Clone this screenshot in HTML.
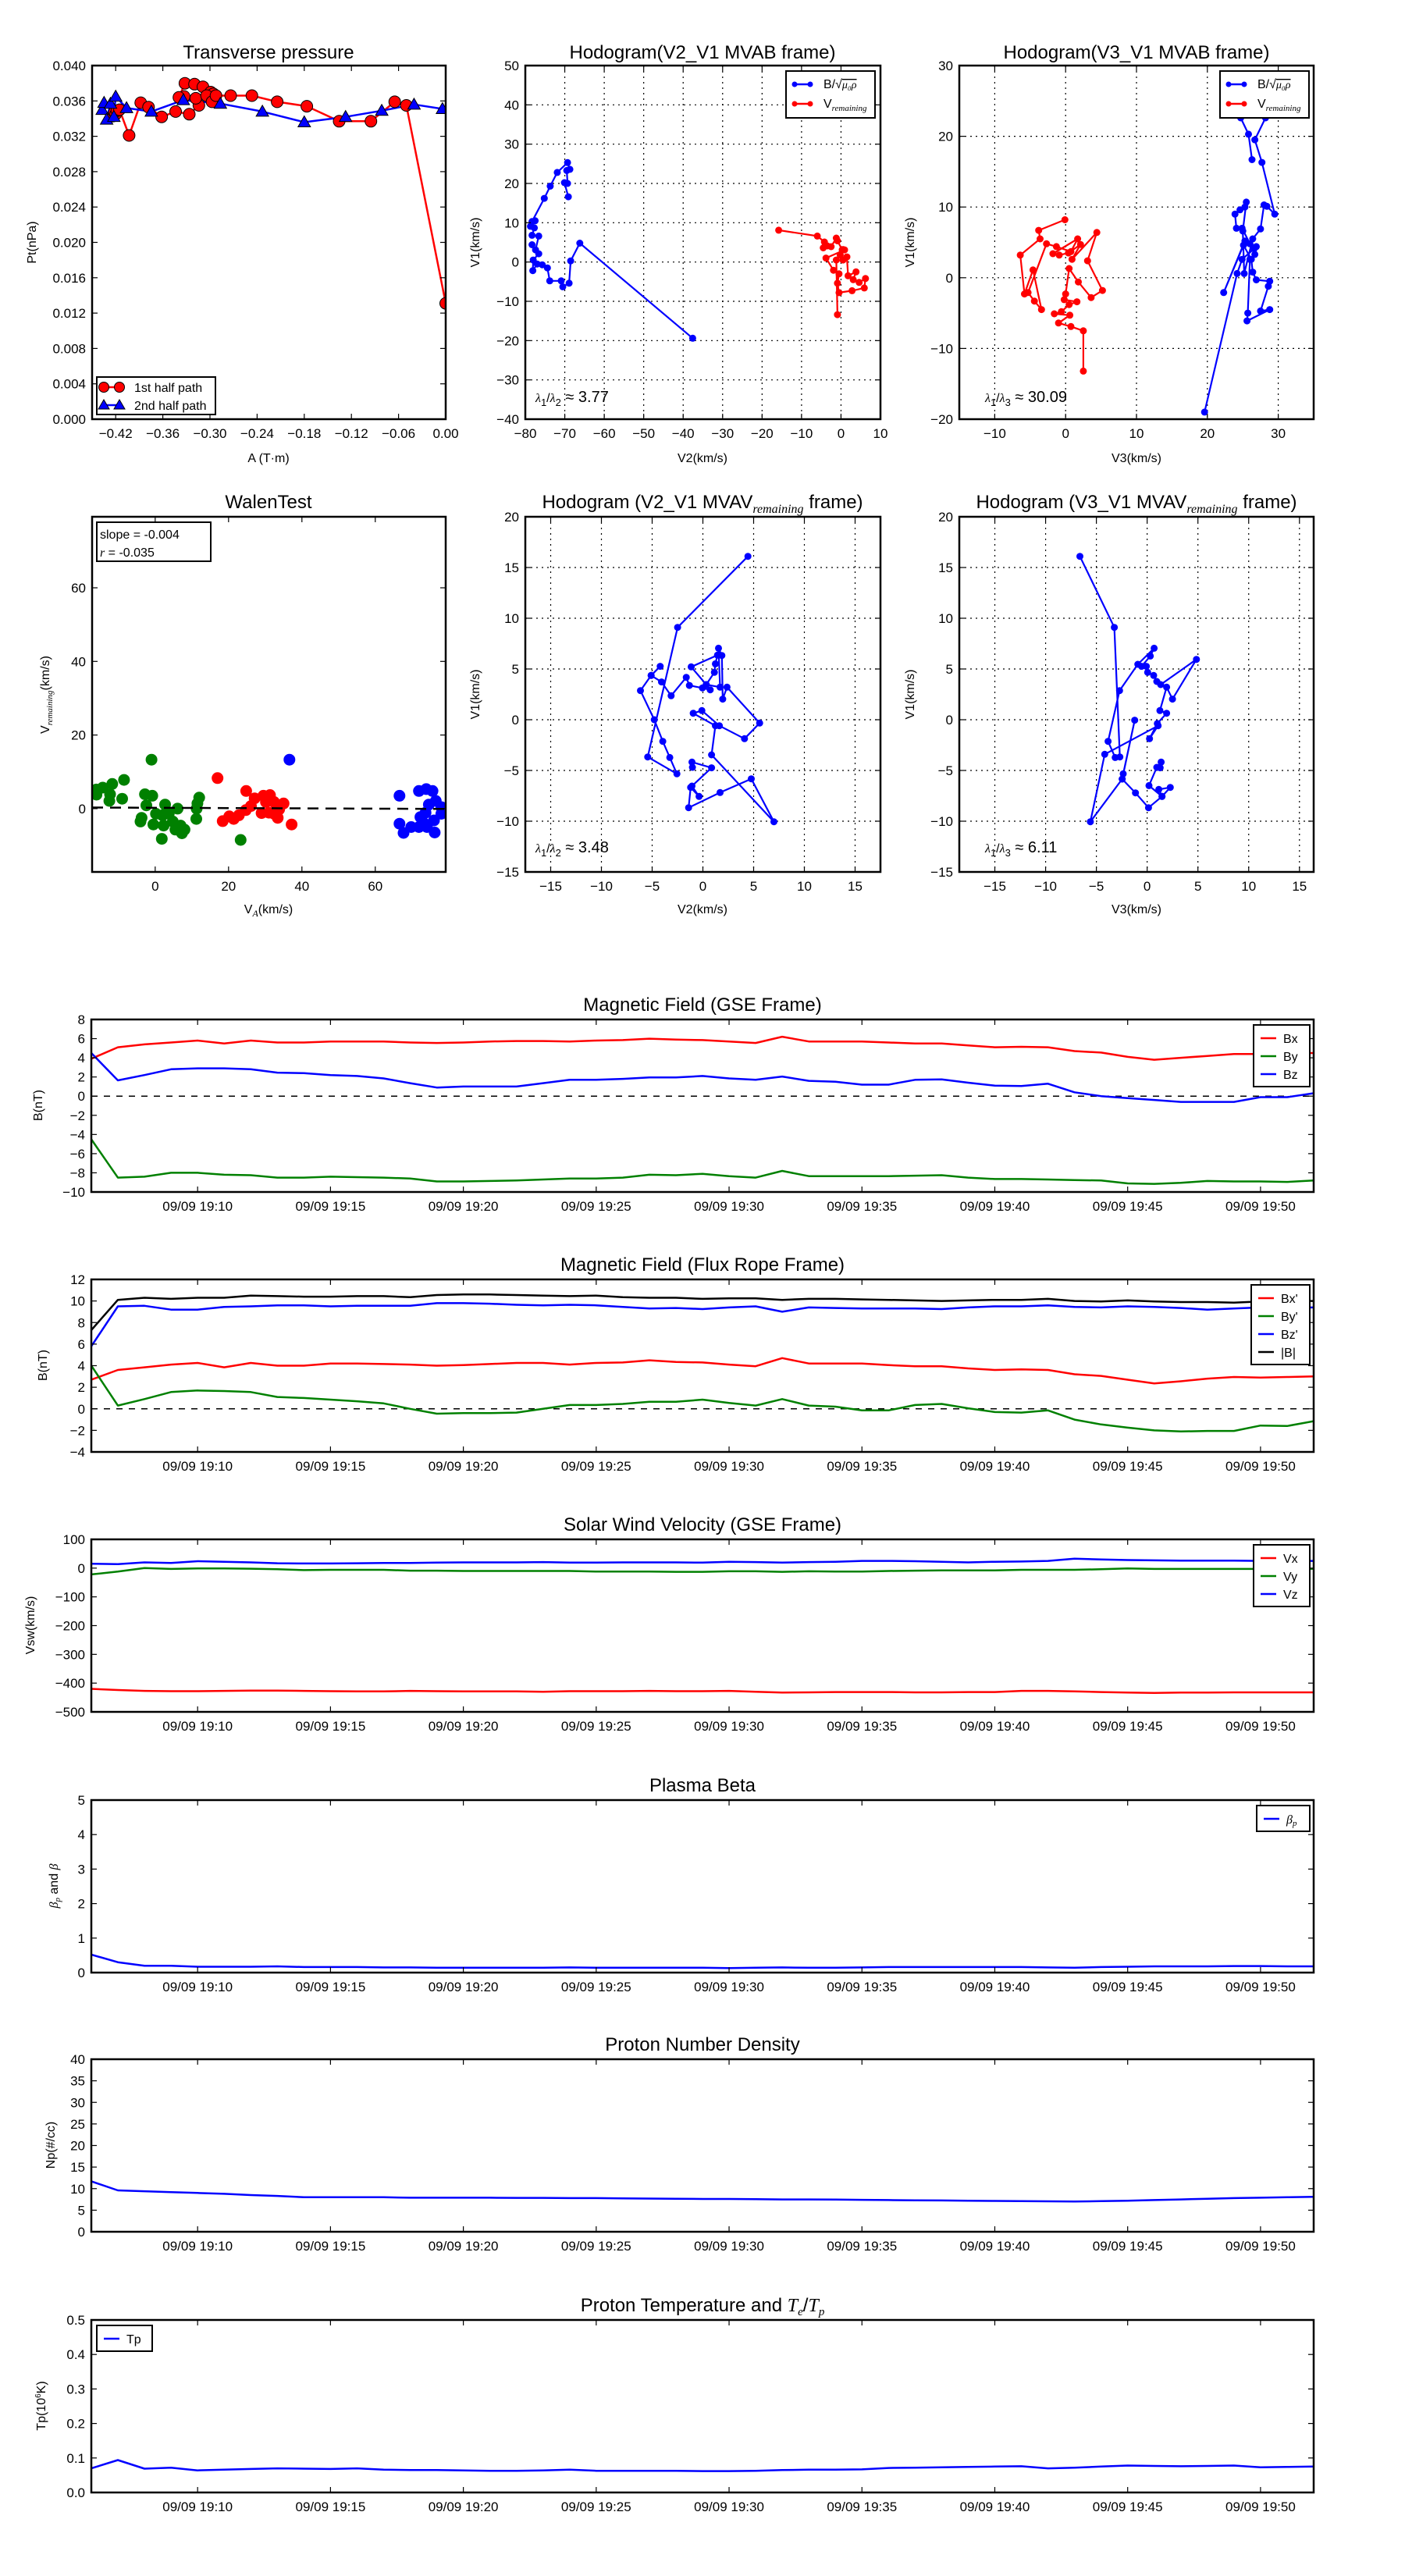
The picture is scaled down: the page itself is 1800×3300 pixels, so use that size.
<!DOCTYPE html>
<html><head><meta charset="utf-8"><title>Flux rope analysis</title>
<style>
html,body{margin:0;padding:0;background:#fff;}
svg{display:block;font-family:"Liberation Sans",sans-serif;}
.tick{font-size:17px;fill:#000;}
.ttl{font-size:24px;fill:#000;}
.lab{font-size:16px;fill:#000;}
.leg{font-size:16px;fill:#000;}
.mi{font-family:"Liberation Serif",serif;font-style:italic;}
</style></head>
<body>
<svg id="fig" width="1800" height="3300" viewBox="0 0 1800 3300" xmlns="http://www.w3.org/2000/svg">
<rect x="0" y="0" width="1800" height="3300" fill="#fff"/>
<defs id="defs"></defs>
</svg>
<script>
// ===== time-series data (1-min samples from 09/09 19:06) =====
var timeTickLabels = ["09/09 19:10","09/09 19:15","09/09 19:20","09/09 19:25","09/09 19:30","09/09 19:35","09/09 19:40","09/09 19:45","09/09 19:50"];
var timeTickMinutes = [4,9,14,19,24,29,34,39,44];
var gseBx = [3.9,5.1,5.4,5.6,5.8,5.5,5.8,5.6,5.6,5.7,5.7,5.7,5.6,5.55,5.6,5.7,5.75,5.75,5.7,5.8,5.85,6.0,5.9,5.85,5.7,5.55,6.2,5.7,5.7,5.7,5.6,5.5,5.5,5.3,5.1,5.15,5.1,4.7,4.55,4.1,3.8,4.0,4.2,4.4,4.4,4.5,4.5];
var gseBy = [-4.5,-8.5,-8.4,-8.0,-8.0,-8.2,-8.25,-8.5,-8.5,-8.4,-8.45,-8.5,-8.6,-8.9,-8.9,-8.85,-8.8,-8.7,-8.6,-8.6,-8.5,-8.2,-8.25,-8.1,-8.35,-8.5,-7.8,-8.35,-8.35,-8.35,-8.35,-8.3,-8.25,-8.5,-8.65,-8.65,-8.7,-8.75,-8.8,-9.1,-9.15,-9.05,-8.85,-8.9,-8.9,-8.95,-8.8];
var gseBz = [4.5,1.65,2.2,2.8,2.9,2.9,2.8,2.45,2.4,2.2,2.1,1.85,1.35,0.9,1.0,1.0,1.0,1.35,1.7,1.7,1.8,1.95,1.95,2.1,1.85,1.7,2.05,1.6,1.5,1.2,1.2,1.7,1.75,1.4,1.1,1.05,1.3,0.4,0.0,-0.2,-0.4,-0.6,-0.6,-0.6,-0.1,-0.1,0.3];
var frBx = [2.7,3.6,3.85,4.1,4.25,3.85,4.25,4.0,4.0,4.2,4.2,4.15,4.1,4.0,4.05,4.15,4.25,4.25,4.1,4.25,4.3,4.5,4.35,4.3,4.1,3.95,4.7,4.2,4.2,4.2,4.05,3.95,3.95,3.75,3.6,3.65,3.6,3.2,3.05,2.7,2.35,2.55,2.8,2.95,2.9,2.95,3.0];
var frBy = [4.0,0.3,0.9,1.55,1.7,1.65,1.55,1.1,1.0,0.85,0.7,0.5,0.0,-0.45,-0.4,-0.4,-0.35,0.0,0.35,0.35,0.45,0.65,0.65,0.85,0.55,0.3,0.9,0.3,0.2,-0.15,-0.15,0.35,0.45,0.05,-0.3,-0.35,-0.15,-1.0,-1.45,-1.75,-2.0,-2.1,-2.05,-2.05,-1.55,-1.6,-1.15];
var frBz = [5.8,9.5,9.55,9.2,9.2,9.45,9.5,9.6,9.6,9.5,9.55,9.55,9.55,9.8,9.8,9.75,9.65,9.6,9.65,9.6,9.45,9.3,9.35,9.25,9.4,9.5,9.0,9.4,9.35,9.3,9.3,9.3,9.25,9.4,9.5,9.5,9.6,9.45,9.4,9.5,9.45,9.35,9.2,9.3,9.4,9.35,9.4];
var frBt = [7.3,10.1,10.3,10.2,10.3,10.3,10.5,10.45,10.4,10.4,10.45,10.45,10.35,10.55,10.6,10.6,10.55,10.5,10.45,10.5,10.35,10.3,10.3,10.2,10.25,10.25,10.1,10.2,10.2,10.15,10.1,10.05,10.0,10.05,10.1,10.1,10.2,10.0,9.95,10.05,9.95,9.9,9.9,9.85,9.95,10.0,10.0];
var swVx = [-420,-424,-427,-428,-428,-427,-426,-426,-427,-428,-429,-429,-427,-428,-429,-429,-429,-430,-428,-428,-428,-427,-428,-428,-427,-430,-433,-432,-431,-431,-431,-432,-432,-431,-431,-427,-427,-429,-431,-433,-434,-433,-433,-432,-432,-432,-432];
var swVy = [-22,-12,0,-3,-1,-1,-2,-4,-7,-6,-6,-6,-9,-9,-10,-10,-10,-10,-10,-12,-12,-12,-13,-13,-11,-11,-13,-11,-12,-12,-10,-9,-8,-8,-8,-6,-6,-6,-4,-1,-3,-3,-3,-3,-3,-5,-2];
var swVz = [15,14,20,18,24,22,20,17,16,16,17,18,18,19,20,20,20,21,19,19,20,20,20,19,22,21,19,21,22,25,25,24,22,20,22,23,25,33,30,28,27,26,26,26,25,25,25];
var betaP = [0.52,0.3,0.2,0.2,0.17,0.17,0.17,0.18,0.16,0.16,0.16,0.15,0.15,0.14,0.14,0.14,0.14,0.14,0.15,0.14,0.14,0.14,0.14,0.14,0.13,0.14,0.15,0.14,0.14,0.15,0.16,0.16,0.16,0.16,0.16,0.16,0.15,0.14,0.16,0.17,0.18,0.18,0.18,0.19,0.19,0.18,0.18];
var npDensity = [11.7,9.6,9.4,9.2,9.0,8.8,8.5,8.3,8.0,8.0,8.0,8.0,7.9,7.9,7.9,7.9,7.85,7.85,7.8,7.8,7.75,7.7,7.65,7.6,7.6,7.55,7.5,7.5,7.45,7.4,7.35,7.3,7.25,7.2,7.15,7.1,7.05,7.0,7.1,7.2,7.35,7.5,7.65,7.8,7.9,8.0,8.1];
var tpTemp = [0.07,0.094,0.069,0.072,0.064,0.066,0.068,0.07,0.069,0.068,0.07,0.066,0.065,0.065,0.064,0.063,0.063,0.064,0.066,0.063,0.063,0.063,0.063,0.062,0.062,0.063,0.065,0.066,0.066,0.067,0.071,0.072,0.073,0.074,0.075,0.076,0.07,0.072,0.075,0.078,0.077,0.076,0.077,0.078,0.073,0.074,0.075];

// ===== transverse pressure =====
var ptTickX = [-0.42,-0.36,-0.30,-0.24,-0.18,-0.12,-0.06,0.00];
var ptTickY = [0.000,0.004,0.008,0.012,0.016,0.020,0.024,0.028,0.032,0.036,0.040];
var pt1A = [-0.4233,-0.4216,-0.42,-0.4184,-0.4151,-0.4029,-0.3881,-0.3782,-0.3615,-0.3437,-0.3263,-0.3141,-0.3181,-0.3329,-0.3395,-0.3319,-0.3197,-0.3089,-0.2990,-0.2957,-0.3043,-0.2974,-0.2924,-0.2737,-0.2467,-0.2145,-0.1767,-0.1356,-0.0952,-0.0649,-0.0501,0.0];
var pt1P = [0.0343,0.0347,0.0345,0.0349,0.0350,0.0321,0.0358,0.0353,0.0342,0.0348,0.0345,0.0355,0.0363,0.0365,0.0364,0.0380,0.0379,0.0376,0.0370,0.0368,0.0366,0.0359,0.0366,0.0366,0.0366,0.0359,0.0354,0.0337,0.0337,0.0359,0.0355,0.0131];
var pt2A = [-0.4371,-0.4348,-0.4266,-0.4315,-0.4223,-0.42,-0.4062,-0.3746,-0.3339,-0.2868,-0.2333,-0.18,-0.1274,-0.0814,-0.0403,-0.0041];
var pt2P = [0.0350,0.0358,0.0357,0.0339,0.0342,0.0365,0.0352,0.0348,0.0361,0.0357,0.0348,0.0336,0.0342,0.0349,0.0356,0.0351];

// ===== hodogram V2-V1 MVAB =====
var h1BlueV2 = [-37.6,-66.2,-68.5,-68.9,-70.5,-70.9,-73.8,-74.4,-75.7,-77.0,-78.1,-78.0,-76.6,-78.3,-77.4,-76.6,-78.3,-77.7,-78.7,-77.5,-78.3,-75.2,-73.7,-71.9,-69.3,-68.7,-69.5,-69.3,-70.1,-69.1];
var h1BlueV1 = [-19.4,4.8,0.3,-5.4,-6.3,-4.8,-4.8,-1.5,-0.7,-0.5,-2.2,0.5,2.1,4.4,3.1,6.6,6.8,8.7,9.1,10.5,10.3,16.2,19.3,22.8,25.3,23.6,23.3,20.0,20.2,16.6];
var h1RedV2 = [-15.8,-6.0,-4.2,-4.5,-3.5,-2.5,-1.2,-0.9,0.3,0.5,0.9,-3.8,-1.9,-0.5,-0.9,-0.5,2.8,5.9,6.2,4.6,3.1,3.8,1.8,1.5,0.5,-0.2,-1.2,-0.9];
var h1RedV1 = [8.1,6.6,5.1,3.6,4.1,3.9,6.1,5.4,3.1,3.2,3.1,1.0,-2.1,-3.0,-5.4,-7.8,-7.3,-6.6,-4.2,-5.2,-4.5,-2.5,-3.5,1.3,0.5,1.8,0.5,-13.4];

// ===== hodogram V3-V1 MVAB =====
var h2BlueV3 = [19.6,24.2,24.9,26.6,26.9,25.3,22.3,25.1,26.2,26.4,26.9,28.8,28.6,27.5,28.8,25.6,25.7,26.0,26.7,26.0,24.9,24.1,23.9,24.6,25.3,25.5,25.0,25.2,26.4,27.5,28.0,28.4,29.5,27.7,26.7,28.2,26.4,24.7,25.8,26.3];
var h2BlueV1 = [-19.0,0.6,2.6,4.1,4.4,5.2,-2.1,4.6,2.6,0.8,-0.3,-0.5,-1.2,-4.7,-4.5,-6.1,-5.0,2.6,3.3,4.8,7.0,7.0,9.0,9.6,10.0,10.7,6.6,0.6,5.5,6.9,10.3,10.1,9.0,16.3,19.5,22.6,24.6,22.6,20.3,16.7];
var h2RedV3 = [-0.1,-3.8,-3.6,-6.4,-5.8,-4.6,-3.4,-4.4,-5.3,-2.7,-1.3,0.75,1.7,-1.8,-0.9,0.4,2.1,0.9,4.4,3.1,5.2,3.6,1.8,0.5,0.0,-0.2,1.6,0.5,-0.6,-1.6,0.6,-1.0,0.75,2.5,2.5];
var h2RedV1 = [8.2,6.7,5.5,3.2,-2.3,1.1,-4.5,-3.3,-2.1,4.8,4.4,3.7,5.5,3.4,3.2,3.5,4.7,2.6,6.4,2.4,-1.8,-2.8,-0.6,1.3,-2.3,-3.1,-3.4,-3.8,-4.8,-5.1,-5.3,-6.4,-6.9,-7.5,-13.2];

// ===== Walen test =====
var walenGreenVA = [-16.0,-16.0,-14.3,-11.7,-12.3,-12.5,-8.5,-9.0,-1.0,-2.8,-0.8,-2.4,2.7,6.1,0.2,2.0,3.7,-3.7,-4.0,-0.5,2.3,4.8,5.5,6.9,8.0,7.3,1.8,11.2,11.3,11.5,12.0,23.3];
var walenGreenV = [5.2,3.8,5.7,6.7,3.9,2.1,7.8,2.7,13.3,3.9,3.5,0.9,1.1,0.0,-1.4,-1.8,-1.4,-2.5,-3.5,-4.3,-4.6,-3.5,-5.7,-4.6,-5.7,-6.7,-8.2,-2.8,0.0,1.4,3.0,-8.5];
var walenRedVA = [17.0,24.8,27.1,29.5,31.3,30.2,32.4,35.0,26.1,24.7,29.0,31.0,33.4,32.4,22.8,21.4,20.2,18.4,37.2,33.8];
var walenRedV = [8.3,4.8,2.8,3.5,3.7,1.8,1.8,1.4,0.7,-0.4,-1.2,-1.1,-2.5,-1.4,-1.8,-2.8,-2.1,-3.4,-4.3,-0.2];
var walenBlueVA = [36.6,66.6,71.9,73.9,75.6,76.5,74.6,78.0,78.0,72.3,73.7,76.0,76.2,74.1,71.9,69.8,66.6,67.7,73.2];
var walenBlueV = [13.3,3.5,4.8,5.3,4.8,2.1,1.1,0.4,-1.4,-2.3,-1.1,-3.2,-6.5,-5.0,-5.0,-5.0,-4.1,-6.6,-3.9];
var walenSlope = -0.004;
var walenIntercept = 0.23;

// ===== hodogram MVAV remaining =====
var h3V2 = [-1.03,-1.08,0.85,-1.08,-0.38,-1.21,-1.41,1.69,4.77,7.00,0.85,1.23,-0.95,-0.10,1.62,4.10,5.59,2.38,1.95,1.87,1.54,1.69,0.33,1.13,1.23,1.44,-1.15,0.33,0.72,-0.05,-1.33,-1.64,-3.13,-4.08,-5.10,-4.21,-5.10,-6.15,-4.79,-3.95,-3.26,-2.56,-5.44,-2.49,4.44];
var h3V1 = [-4.69,-4.18,-4.74,-6.54,-7.56,-6.67,-8.67,-7.18,-5.82,-10.05,-3.46,-0.59,0.64,0.90,-0.59,-1.87,-0.33,3.21,2.03,6.33,7.05,3.21,3.46,4.67,5.51,6.36,5.21,3.46,2.95,3.13,3.38,4.18,2.36,3.72,4.36,5.26,4.36,2.87,0.00,-2.13,-3.72,-5.33,-3.67,9.10,16.10];
var h4V3 = [-6.62,-3.23,-2.69,-3.15,-3.85,-2.72,-0.92,0.69,0.31,-0.54,-0.08,0.05,0.64,0.95,1.33,4.85,2.49,1.92,1.26,1.92,1.00,0.23,1.08,-4.18,-5.59,-2.46,-2.36,-1.23,-2.46,-1.15,0.13,1.46,2.28,1.15,1.46,0.18,0.95,1.38,1.28];
var h4V1 = [16.10,9.10,-3.67,-3.72,-2.13,2.87,5.46,7.05,6.28,5.26,5.26,4.67,4.36,3.77,3.46,5.95,2.03,3.21,0.90,0.64,-0.38,-1.87,-0.59,-3.41,-10.05,-5.85,-5.33,-0.05,-5.85,-7.21,-8.67,-7.56,-6.67,-6.87,-7.56,-6.49,-4.69,-4.18,-4.74];

var SVGNS = "http://www.w3.org/2000/svg";
var svg = document.getElementById('fig');
var defs = document.getElementById('defs');
var clipId = 0;

function mk(tag, attrs, parent, name, inter) {
  var e = document.createElementNS(SVGNS, tag);
  for (var k in attrs) e.setAttribute(k, attrs[k]);
  
  
  (parent || svg).appendChild(e);
  return e;
}
function txt(s, x, y, cls, anchor, parent, name) {
  var t = mk('text', {x: x, y: y, 'class': cls, 'text-anchor': anchor || 'middle'}, parent, name, false);
  t.textContent = s;
  return t;
}
function fmtMinus(s) { return String(s).replace('-', '\u2212'); }

function makeAxes(name, x0, y0, x1, y1, xmin, xmax, ymin, ymax) {
  var g = mk('g', {}, svg, name, false);
  var ax = {g: g, x0: x0, x1: x1, y0: y0, y1: y1};
  ax.sx = function (v) { return x0 + (v - xmin) / (xmax - xmin) * (x1 - x0); };
  ax.sy = function (v) { return y1 - (v - ymin) / (ymax - ymin) * (y1 - y0); };
  clipId++;
  var cp = mk('clipPath', {id: 'clip' + clipId}, defs, name + '-clip', false);
  mk('rect', {x: x0, y: y0, width: x1 - x0, height: y1 - y0}, cp, name + '-clip-rect', false);
  ax.plot = mk('g', {'clip-path': 'url(#clip' + clipId + ')'}, g, name + '-plot-area', false);
  return ax;
}
function frame(ax) {
  mk('rect', {x: ax.x0, y: ax.y0, width: ax.x1 - ax.x0, height: ax.y1 - ax.y0, fill: 'none', stroke: '#000', 'stroke-width': 2.5}, ax.g, 'axes-frame', false);
}
function xTicks(ax, vals, labels, grid) {
  for (var i = 0; i < vals.length; i++) {
    var x = ax.sx(vals[i]);
    if (grid) mk('line', {x1: x, y1: ax.y0, x2: x, y2: ax.y1, stroke: '#000', 'stroke-width': 1.2, 'stroke-dasharray': '2,5'}, ax.plot, 'x-grid-line', false);
    mk('line', {x1: x, y1: ax.y1, x2: x, y2: ax.y1 - 7, stroke: '#000', 'stroke-width': 1.2}, ax.g, 'x-tick', false);
    mk('line', {x1: x, y1: ax.y0, x2: x, y2: ax.y0 + 7, stroke: '#000', 'stroke-width': 1.2}, ax.g, 'x-tick', false);
    txt(labels[i], x, ax.y1 + 24, 'tick', 'middle', ax.g, 'x-tick-label');
  }
}
function yTicks(ax, vals, labels, grid) {
  for (var i = 0; i < vals.length; i++) {
    var y = ax.sy(vals[i]);
    if (grid) mk('line', {x1: ax.x0, y1: y, x2: ax.x1, y2: y, stroke: '#000', 'stroke-width': 1.2, 'stroke-dasharray': '2,5'}, ax.plot, 'y-grid-line', false);
    mk('line', {x1: ax.x0, y1: y, x2: ax.x0 + 7, y2: y, stroke: '#000', 'stroke-width': 1.2}, ax.g, 'y-tick', false);
    mk('line', {x1: ax.x1, y1: y, x2: ax.x1 - 7, y2: y, stroke: '#000', 'stroke-width': 1.2}, ax.g, 'y-tick', false);
    txt(labels[i], ax.x0 - 8, y + 6, 'tick', 'end', ax.g, 'y-tick-label');
  }
}
function ylabel(ax, s, x, name) {
  var cy = (ax.y0 + ax.y1) / 2;
  var t = mk('text', {x: x, y: cy, 'class': 'lab', 'text-anchor': 'middle', transform: 'rotate(-90 ' + x + ' ' + cy + ')'}, ax.g, name, false);
  t.textContent = s;
  return t;
}
function polyline(ax, xs, ys, color, name, width) {
  var pts = [];
  for (var i = 0; i < xs.length; i++) pts.push(ax.sx(xs[i]).toFixed(1) + ',' + ax.sy(ys[i]).toFixed(1));
  return mk('polyline', {points: pts.join(' '), fill: 'none', stroke: color, 'stroke-width': width || 2.5, 'stroke-linejoin': 'round'}, ax.plot, name, false);
}
function dots(ax, xs, ys, color, r, name, edge) {
  for (var i = 0; i < xs.length; i++) {
    var a = {cx: ax.sx(xs[i]).toFixed(1), cy: ax.sy(ys[i]).toFixed(1), r: r, fill: color};
    if (edge) { a.stroke = '#000'; a['stroke-width'] = 1; }
    mk('circle', a, ax.plot, name, false);
  }
}
function tris(ax, xs, ys, color, s, name) {
  for (var i = 0; i < xs.length; i++) {
    var x = ax.sx(xs[i]), y = ax.sy(ys[i]);
    mk('polygon', {points: x + ',' + (y - s) + ' ' + (x - s) + ',' + (y + s * 0.75) + ' ' + (x + s) + ',' + (y + s * 0.75), fill: color, stroke: '#000', 'stroke-width': 1}, ax.plot, name, false);
  }
}
function range(a, b, step) { var r = []; for (var v = a; v <= b + 1e-9; v += step) r.push(Math.round(v * 1000) / 1000); return r; }
function minutes(n) { var r = []; for (var i = 0; i < n; i++) r.push(i); return r; }

// ---------------- Transverse pressure ----------------
(function () {
  var ax = makeAxes('transverse-pressure-chart', 118, 84, 571, 537, -0.45, 0.0, 0.0, 0.040);
  txt('Transverse pressure', 344, 75, 'ttl', 'middle', ax.g, 'chart-title');
  xTicks(ax, ptTickX, ptTickX.map(function (v) { return fmtMinus(v.toFixed(2)); }), false);
  yTicks(ax, ptTickY, ptTickY.map(function (v) { return v.toFixed(3); }), false);
  polyline(ax, pt1A, pt1P, '#ff0000', 'first-half-line', 2.5);
  polyline(ax, pt2A, pt2P, '#0000ff', 'second-half-line', 2.5);
  dots(ax, pt1A, pt1P, '#ff0000', 7.5, 'first-half-point', true);
  tris(ax, pt2A, pt2P, '#0000ff', 8, 'second-half-point');
  frame(ax);
  txt('A (T\u00b7m)', 344, 592, 'lab', 'middle', ax.g, 'x-axis-title');
  ylabel(ax, 'Pt(nPa)', 46, 'y-axis-title');
  var lg = mk('g', {}, ax.g, 'legend', false);
  mk('rect', {x: 124, y: 483, width: 152, height: 48, fill: '#fff', stroke: '#000', 'stroke-width': 2}, lg, 'legend-box', false);
  mk('line', {x1: 132, y1: 496, x2: 154, y2: 496, stroke: '#ff0000', 'stroke-width': 2.5}, lg, 'legend-line-first', false);
  mk('circle', {cx: 133, cy: 496, r: 6.5, fill: '#ff0000', stroke: '#000'}, lg, 'legend-marker-first', false);
  mk('circle', {cx: 153, cy: 496, r: 6.5, fill: '#ff0000', stroke: '#000'}, lg, 'legend-marker-first', false);
  txt('1st half path', 172, 502, 'leg', 'start', lg, 'legend-entry-first-half');
  mk('line', {x1: 132, y1: 519, x2: 154, y2: 519, stroke: '#0000ff', 'stroke-width': 2.5}, lg, 'legend-line-second', false);
  mk('polygon', {points: '133,512 126,524 140,524', fill: '#0000ff', stroke: '#000'}, lg, 'legend-marker-second', false);
  mk('polygon', {points: '153,512 146,524 160,524', fill: '#0000ff', stroke: '#000'}, lg, 'legend-marker-second', false);
  txt('2nd half path', 172, 525, 'leg', 'start', lg, 'legend-entry-second-half');
})();

function hodoLegend(ax, lx, ly) {
  var lg = mk('g', {}, ax.g, 'legend', false);
  mk('rect', {x: lx, y: ly, width: 114, height: 60, fill: '#fff', stroke: '#000', 'stroke-width': 2}, lg, 'legend-box', false);
  mk('line', {x1: lx + 11, y1: ly + 17, x2: lx + 31, y2: ly + 17, stroke: '#0000ff', 'stroke-width': 2.5}, lg, 'legend-line-b', false);
  mk('circle', {cx: lx + 11, cy: ly + 17, r: 3.5, fill: '#0000ff'}, lg, 'legend-marker', false);
  mk('circle', {cx: lx + 31, cy: ly + 17, r: 3.5, fill: '#0000ff'}, lg, 'legend-marker', false);
  var t1 = mk('text', {x: lx + 48, y: ly + 22, 'class': 'leg', 'text-anchor': 'start'}, lg, 'legend-entry-alfven', false);
  t1.innerHTML = 'B/\u221A<tspan class="mi" text-decoration="overline" font-size="14">\u03BC\u2080\u03C1</tspan>';
  mk('line', {x1: lx + 11, y1: ly + 42, x2: lx + 31, y2: ly + 42, stroke: '#ff0000', 'stroke-width': 2.5}, lg, 'legend-line-v', false);
  mk('circle', {cx: lx + 11, cy: ly + 42, r: 3.5, fill: '#ff0000'}, lg, 'legend-marker', false);
  mk('circle', {cx: lx + 31, cy: ly + 42, r: 3.5, fill: '#ff0000'}, lg, 'legend-marker', false);
  var t2 = mk('text', {x: lx + 48, y: ly + 47, 'class': 'leg', 'text-anchor': 'start'}, lg, 'legend-entry-vremaining', false);
  t2.innerHTML = 'V<tspan class="mi" font-size="11" dy="4">remaining</tspan>';
}
function lambdaText(ax, x, y, sub, val) {
  var t = mk('text', {x: x, y: y, 'class': 'lab', 'text-anchor': 'start', 'font-size': '20'}, ax.g, 'eigenvalue-ratio', false);
  t.innerHTML = '<tspan class="mi">\u03BB</tspan><tspan font-size="13" dy="5">1</tspan><tspan dy="-5">/</tspan><tspan class="mi">\u03BB</tspan><tspan font-size="13" dy="5">' + sub + '</tspan><tspan dy="-5" font-size="20"> \u2248 ' + val + '</tspan>';
  t.setAttribute('font-size', '20');
}

// ---------------- Hodogram V2_V1 MVAB ----------------
(function () {
  var ax = makeAxes('hodogram-v2-v1-mvab', 673, 84, 1128, 537, -80, 10, -40, 50);
  txt('Hodogram(V2_V1 MVAB frame)', 900, 75, 'ttl', 'middle', ax.g, 'chart-title');
  var xt = range(-80, 10, 10), yt = range(-40, 50, 10);
  xTicks(ax, xt, xt.map(fmtMinus), true);
  yTicks(ax, yt, yt.map(fmtMinus), true);
  polyline(ax, h1BlueV2, h1BlueV1, '#0000ff', 'alfven-velocity-line', 2.2);
  dots(ax, h1BlueV2, h1BlueV1, '#0000ff', 4.5, 'alfven-velocity-point');
  polyline(ax, h1RedV2, h1RedV1, '#ff0000', 'remaining-velocity-line', 2.2);
  dots(ax, h1RedV2, h1RedV1, '#ff0000', 4.5, 'remaining-velocity-point');
  frame(ax);
  hodoLegend(ax, 1007, 91);
  lambdaText(ax, 686, 515, '2', '3.77');
  txt('V2(km/s)', 900, 592, 'lab', 'middle', ax.g, 'x-axis-title');
  ylabel(ax, 'V1(km/s)', 614, 'y-axis-title');
})();

// ---------------- Hodogram V3_V1 MVAB ----------------
(function () {
  var ax = makeAxes('hodogram-v3-v1-mvab', 1229, 84, 1683, 537, -15, 35, -20, 30);
  txt('Hodogram(V3_V1 MVAB frame)', 1456, 75, 'ttl', 'middle', ax.g, 'chart-title');
  var xt = range(-10, 30, 10), yt = range(-20, 30, 10);
  xTicks(ax, xt, xt.map(fmtMinus), true);
  yTicks(ax, yt, yt.map(fmtMinus), true);
  polyline(ax, h2BlueV3, h2BlueV1, '#0000ff', 'alfven-velocity-line', 2.2);
  dots(ax, h2BlueV3, h2BlueV1, '#0000ff', 4.5, 'alfven-velocity-point');
  polyline(ax, h2RedV3, h2RedV1, '#ff0000', 'remaining-velocity-line', 2.2);
  dots(ax, h2RedV3, h2RedV1, '#ff0000', 4.5, 'remaining-velocity-point');
  frame(ax);
  hodoLegend(ax, 1563, 91);
  lambdaText(ax, 1262, 515, '3', '30.09');
  txt('V3(km/s)', 1456, 592, 'lab', 'middle', ax.g, 'x-axis-title');
  ylabel(ax, 'V1(km/s)', 1171, 'y-axis-title');
})();

// ---------------- Walen test ----------------
(function () {
  var ax = makeAxes('walen-test-chart', 118, 662, 571, 1117, -17.2, 79.2, -17.2, 79.3);
  txt('WalenTest', 344, 651, 'ttl', 'middle', ax.g, 'chart-title');
  var xt = [0, 20, 40, 60], yt = [0, 20, 40, 60];
  xTicks(ax, xt, xt.map(String), false);
  yTicks(ax, yt, yt.map(String), false);
  dots(ax, walenGreenVA, walenGreenV, '#008000', 7.5, 'walen-point-green');
  dots(ax, walenRedVA, walenRedV, '#ff0000', 7.5, 'walen-point-red');
  dots(ax, walenBlueVA, walenBlueV, '#0000ff', 7.5, 'walen-point-blue');
  var fx = [-17.2, 79.2];
  var fy = [walenIntercept + walenSlope * fx[0], walenIntercept + walenSlope * fx[1]];
  var fl = polyline(ax, fx, fy, '#000', 'walen-fit-line', 2.5);
  fl.setAttribute('stroke-dasharray', '14,9');
  frame(ax);
  var lg = mk('g', {}, ax.g, 'fit-stats-box', false);
  mk('rect', {x: 124, y: 669, width: 146, height: 50, fill: '#fff', stroke: '#000', 'stroke-width': 2}, lg, 'stats-box', false);
  txt('slope = -0.004', 128, 690, 'leg', 'start', lg, 'slope-text').setAttribute('font-size', '18');
  var r = mk('text', {x: 128, y: 713, 'class': 'leg', 'text-anchor': 'start', 'font-size': '18'}, lg, 'r-text', false);
  r.innerHTML = '<tspan class="mi">r</tspan> = -0.035';
  var xl = mk('text', {x: 344, y: 1170, 'class': 'lab', 'text-anchor': 'middle'}, ax.g, 'x-axis-title', false);
  xl.innerHTML = 'V<tspan class="mi" font-size="12" dy="4">A</tspan><tspan dy="-4">(km/s)</tspan>';
  var cy = 890;
  var yl = mk('text', {x: 63, y: cy, 'class': 'lab', 'text-anchor': 'middle', transform: 'rotate(-90 63 ' + cy + ')'}, ax.g, 'y-axis-title', false);
  yl.innerHTML = 'V<tspan class="mi" font-size="11" dy="4">remaining</tspan><tspan dy="-4">(km/s)</tspan>';
})();

// ---------------- Hodogram V2_V1 MVAV ----------------
(function () {
  var ax = makeAxes('hodogram-v2-v1-mvav', 673, 662, 1128, 1117, -17.5, 17.5, -15, 20);
  var t = mk('text', {x: 900, y: 651, 'class': 'ttl', 'text-anchor': 'middle'}, ax.g, 'chart-title', false);
  t.innerHTML = 'Hodogram (V2_V1 MVAV<tspan class="mi" font-size="16" dy="6">remaining</tspan><tspan dy="-6"> frame)</tspan>';
  var xt = range(-15, 15, 5), yt = range(-15, 20, 5);
  xTicks(ax, xt, xt.map(fmtMinus), true);
  yTicks(ax, yt, yt.map(fmtMinus), true);
  polyline(ax, h3V2, h3V1, '#0000ff', 'hodogram-line', 2.2);
  dots(ax, h3V2, h3V1, '#0000ff', 4.5, 'hodogram-point');
  frame(ax);
  lambdaText(ax, 686, 1092, '2', '3.48');
  txt('V2(km/s)', 900, 1170, 'lab', 'middle', ax.g, 'x-axis-title');
  ylabel(ax, 'V1(km/s)', 614, 'y-axis-title');
})();

// ---------------- Hodogram V3_V1 MVAV ----------------
(function () {
  var ax = makeAxes('hodogram-v3-v1-mvav', 1229, 662, 1683, 1117, -18.5, 16.4, -15, 20);
  var t = mk('text', {x: 1456, y: 651, 'class': 'ttl', 'text-anchor': 'middle'}, ax.g, 'chart-title', false);
  t.innerHTML = 'Hodogram (V3_V1 MVAV<tspan class="mi" font-size="16" dy="6">remaining</tspan><tspan dy="-6"> frame)</tspan>';
  var xt = range(-15, 15, 5), yt = range(-15, 20, 5);
  xTicks(ax, xt, xt.map(fmtMinus), true);
  yTicks(ax, yt, yt.map(fmtMinus), true);
  polyline(ax, h4V3, h4V1, '#0000ff', 'hodogram-line', 2.2);
  dots(ax, h4V3, h4V1, '#0000ff', 4.5, 'hodogram-point');
  frame(ax);
  lambdaText(ax, 1262, 1092, '3', '6.11');
  txt('V3(km/s)', 1456, 1170, 'lab', 'middle', ax.g, 'x-axis-title');
  ylabel(ax, 'V1(km/s)', 1171, 'y-axis-title');
})();

// ---------------- Time series panels ----------------
function timePanel(name, top, title, ymin, ymax, yvals, ylabFmt, ylabText, ylabX) {
  var ax = makeAxes(name, 117, top, 1683, top + 221, 0, 46, ymin, ymax);
  var t = mk('text', {x: 900, y: top - 11, 'class': 'ttl', 'text-anchor': 'middle'}, ax.g, 'chart-title', false);
  t.innerHTML = title;
  xTicks(ax, timeTickMinutes, timeTickLabels, false);
  yTicks(ax, yvals, yvals.map(ylabFmt), false);
  var cy = top + 110;
  var yl = mk('text', {x: ylabX, y: cy, 'class': 'lab', 'text-anchor': 'middle', transform: 'rotate(-90 ' + ylabX + ' ' + cy + ')'}, ax.g, 'y-axis-title', false);
  yl.innerHTML = ylabText;
  return ax;
}
function zeroLine(ax) {
  mk('line', {x1: ax.x0, y1: ax.sy(0), x2: ax.x1, y2: ax.sy(0), stroke: '#000', 'stroke-width': 1.5, 'stroke-dasharray': '8,8'}, ax.plot, 'zero-reference-line', false);
}
function legendBox(ax, x, y, w, entries) {
  var lg = mk('g', {}, ax.g, 'legend', false);
  mk('rect', {x: x, y: y, width: w, height: entries.length * 23 + 10, fill: '#fff', stroke: '#000', 'stroke-width': 2}, lg, 'legend-box', false);
  for (var i = 0; i < entries.length; i++) {
    var yy = y + 17 + i * 23;
    mk('line', {x1: x + 9, y1: yy, x2: x + 29, y2: yy, stroke: entries[i][1], 'stroke-width': 2.5}, lg, 'legend-swatch', false);
    var t = mk('text', {x: x + 38, y: yy + 6, 'class': 'leg', 'text-anchor': 'start'}, lg, 'legend-entry', false);
    t.innerHTML = entries[i][0];
  }
}
var T = minutes(47);
var fmtInt = function (v) { return fmtMinus(String(v)); };

(function () {
  var ax = timePanel('magnetic-field-gse-chart', 1306, 'Magnetic Field (GSE Frame)', -10, 8, range(-10, 8, 2), fmtInt, 'B(nT)', 54);
  zeroLine(ax);
  polyline(ax, T, gseBx, '#ff0000', 'bx-line');
  polyline(ax, T, gseBy, '#008000', 'by-line');
  polyline(ax, T, gseBz, '#0000ff', 'bz-line');
  frame(ax);
  legendBox(ax, 1606, 1313, 72, [['Bx', '#ff0000'], ['By', '#008000'], ['Bz', '#0000ff']]);
})();
(function () {
  var ax = timePanel('magnetic-field-flux-rope-chart', 1639, 'Magnetic Field (Flux Rope Frame)', -4, 12, range(-4, 12, 2), fmtInt, 'B(nT)', 60);
  zeroLine(ax);
  polyline(ax, T, frBx, '#ff0000', 'bx-prime-line');
  polyline(ax, T, frBy, '#008000', 'by-prime-line');
  polyline(ax, T, frBz, '#0000ff', 'bz-prime-line');
  polyline(ax, T, frBt, '#000000', 'b-magnitude-line');
  frame(ax);
  legendBox(ax, 1603, 1646, 75, [["Bx'", '#ff0000'], ["By'", '#008000'], ["Bz'", '#0000ff'], ['|B|', '#000000']]);
})();
(function () {
  var ax = timePanel('solar-wind-velocity-chart', 1972, 'Solar Wind Velocity (GSE Frame)', -500, 100, range(-500, 100, 100), fmtInt, 'Vsw(km/s)', 44);
  polyline(ax, T, swVx, '#ff0000', 'vx-line');
  polyline(ax, T, swVy, '#008000', 'vy-line');
  polyline(ax, T, swVz, '#0000ff', 'vz-line');
  frame(ax);
  legendBox(ax, 1606, 1979, 72, [['Vx', '#ff0000'], ['Vy', '#008000'], ['Vz', '#0000ff']]);
})();
(function () {
  var ax = timePanel('plasma-beta-chart', 2306, 'Plasma Beta', 0, 5, range(0, 5, 1), fmtInt, '<tspan class="mi">\u03B2</tspan><tspan class="mi" font-size="11" dy="3">p</tspan><tspan dy="-3"> and </tspan><tspan class="mi">\u03B2</tspan>', 74);
  polyline(ax, T, betaP, '#0000ff', 'beta-p-line');
  frame(ax);
  legendBox(ax, 1610, 2313, 68, [['<tspan class="mi">\u03B2</tspan><tspan class="mi" font-size="11" dy="3">p</tspan>', '#0000ff']]);
})();
(function () {
  var ax = timePanel('proton-density-chart', 2638, 'Proton Number Density', 0, 40, range(0, 40, 5), fmtInt, 'Np(#/cc)', 70);
  polyline(ax, T, npDensity, '#0000ff', 'np-line');
  frame(ax);
})();
(function () {
  var ax = timePanel('proton-temperature-chart', 2972, 'Proton Temperature and <tspan class="mi">T</tspan><tspan class="mi" font-size="15" dy="5">e</tspan><tspan dy="-5">/</tspan><tspan class="mi">T</tspan><tspan class="mi" font-size="15" dy="5">p</tspan>', 0, 0.5, range(0, 0.5, 0.1), function (v) { return v.toFixed(1); }, 'Tp(10<tspan font-size="10" dy="-6">6</tspan><tspan dy="6">K)</tspan>', 58);
  polyline(ax, T, tpTemp, '#0000ff', 'tp-line');
  frame(ax);
  legendBox(ax, 124, 2979, 71, [['Tp', '#0000ff']]);
})();
</script>
</body></html>
